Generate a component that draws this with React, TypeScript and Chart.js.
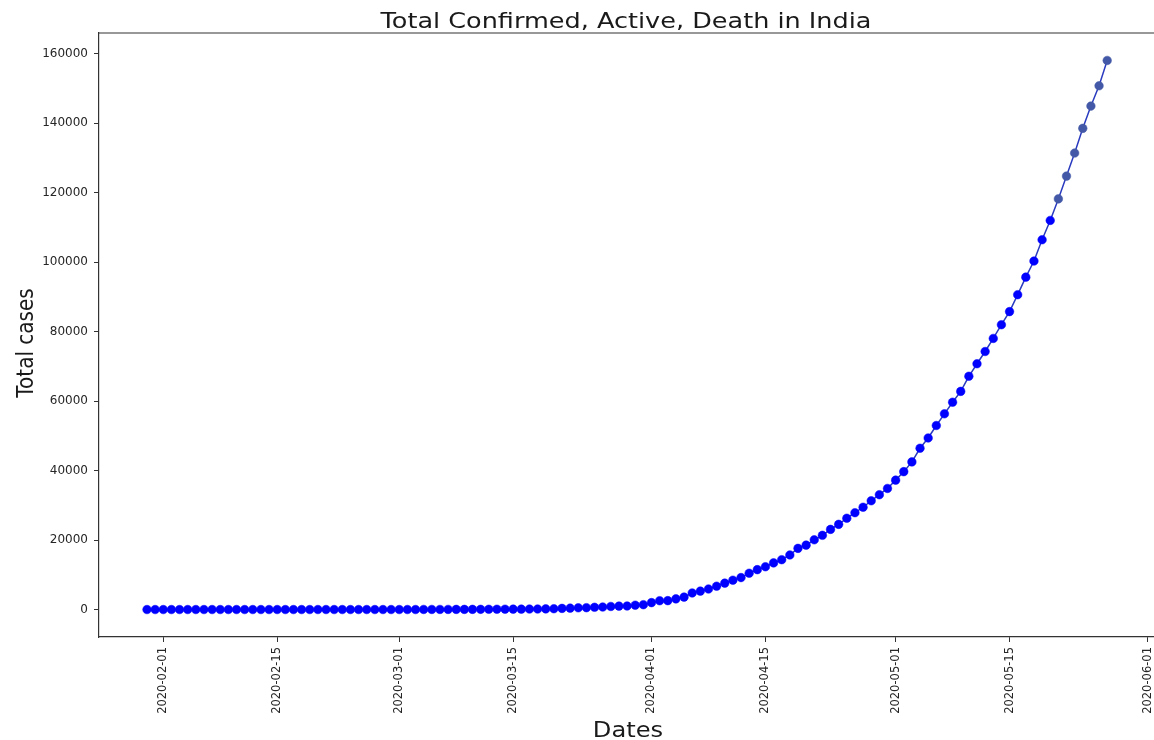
import React, { useEffect, useRef } from "react";
import { Chart, registerables } from "chart.js";

Chart.register(...registerables);

const chartTitle = "Total Confirmed, Active, Death in India";
const xAxisTitle = "Dates";
const yAxisTitle = "Total cases";

const startDate = "2020-01-30";
const endDate = "2020-05-27";

// cumulative confirmed cases, one value per day from startDate to endDate
const confirmed = [
  1, 1, 1, 2, 3, 3, 3, 3, 3, 3,
  3, 3, 3, 3, 3, 3, 3, 3, 3, 3,
  3, 3, 3, 3, 3, 3, 3, 3, 3, 3,
  3, 3, 5, 5, 28, 30, 31, 34, 39, 43, 56,
  62, 73, 82, 102, 113, 119, 142, 156, 194, 244,
  330, 396, 499, 536, 657, 727, 887, 987, 1024, 1251,
  1397, 1998, 2543, 2567, 3082, 3588, 4778, 5311, 5916, 6725,
  7598, 8446, 9205, 10453, 11487, 12322, 13430, 14352, 15722, 17615,
  18539, 20080, 21370, 23077, 24530, 26283, 27890, 29451, 31324, 33062,
  34863, 37257, 39699, 42505, 46437, 49400, 52987, 56351, 59695, 62808,
  67161, 70768, 74292, 78055, 81997, 85784, 90648, 95698, 100328, 106475,
  112028, 118226, 124794, 131423, 138536, 144950, 150793, 158086,
];

const xTickLabels = [
  "2020-02-01",
  "2020-02-15",
  "2020-03-01",
  "2020-03-15",
  "2020-04-01",
  "2020-04-15",
  "2020-05-01",
  "2020-05-15",
  "2020-06-01",
];

const yTickValues = [0, 20000, 40000, 60000, 80000, 100000, 120000, 140000, 160000];

function dayNum(s: string): number {
  const [y, m, d] = s.split("-").map(Number);
  return Date.UTC(y, m - 1, d) / 86400000;
}
function dayLabel(n: number): string {
  return new Date(Math.round(n) * 86400000).toISOString().slice(0, 10);
}

function zeroPadding(s: any) {
  s.paddingLeft = 0;
  s.paddingRight = 0;
  s.paddingTop = 0;
  s.paddingBottom = 0;
}

export default function App() {
  const ref = useRef<HTMLCanvasElement | null>(null);

  useEffect(() => {
    document.body.style.margin = "0";
    const canvas = ref.current;
    if (!canvas) return;

    const x0 = dayNum(startDate);
    const x1 = dayNum(endDate);
    const xSpan = x1 - x0;
    const yMaxData = Math.max(...confirmed);
    const yMinData = Math.min(...confirmed);
    const ySpan = yMaxData - yMinData;

    const pts = confirmed.map((v, i) => ({ x: x0 + i, y: v }));
    const pointColors = confirmed.map((_, i) => (i >= confirmed.length - 7 ? "#4358a6" : "#0000ff"));

    const decor = {
      id: "decor",
      afterDraw(chart: any) {
        const { ctx, chartArea: a } = chart;
        ctx.save();
        ctx.strokeStyle = "#333333";
        ctx.lineWidth = 1.2;
        ctx.beginPath();
        ctx.moveTo(a.left, a.top);
        ctx.lineTo(a.right, a.top);
        ctx.lineTo(a.right, a.bottom);
        ctx.stroke();

        ctx.fillStyle = "#1a1a1a";
        ctx.textAlign = "center";
        ctx.textBaseline = "alphabetic";

        ctx.save();
        ctx.translate(626, 28);
        ctx.scale(1.245, 1);
        ctx.font = "20.5px 'DejaVu Sans'";
        ctx.fillText(chartTitle, 0, 0);
        ctx.restore();

        ctx.save();
        ctx.translate(628, 737);
        ctx.scale(1.15, 1);
        ctx.font = "21px 'DejaVu Sans'";
        ctx.fillText(xAxisTitle, 0, 0);
        ctx.restore();

        ctx.save();
        ctx.translate(33, 343);
        ctx.rotate(-Math.PI / 2);
        ctx.scale(1, 1.15);
        ctx.font = "20px 'DejaVu Sans'";
        ctx.fillText(yAxisTitle, 0, 0);
        ctx.restore();

        ctx.restore();
      },
    };

    const chart = new Chart(canvas, {
      type: "line",
      data: {
        datasets: [
          {
            data: pts,
            borderColor: "#2a3bbf",
            borderWidth: 1.5,
            pointBackgroundColor: pointColors,
            pointBorderColor: pointColors,
            pointBorderWidth: 0.5,
            pointRadius: 4.3,
            tension: 0,
          },
        ],
      },
      options: {
        animation: false,
        responsive: false,
        devicePixelRatio: 1,
        layout: { padding: { top: 33, right: 1, left: 0, bottom: 0 } },
        plugins: { legend: { display: false }, title: { display: false }, tooltip: { enabled: false } },
        scales: {
          x: {
            type: "linear",
            bounds: "data",
            min: x0 - 0.05 * xSpan,
            max: x1 + 0.05 * xSpan,
            afterBuildTicks: (s: any) => {
              s.ticks = xTickLabels.map((l) => ({ value: dayNum(l) }));
            },
            afterFit: (s: any) => {
              s.height = 103;
              zeroPadding(s);
            },
            ticks: {
              callback: (v: any) => dayLabel(Number(v)),
              minRotation: 90,
              maxRotation: 90,
              autoSkip: false,
              padding: 5,
              color: "#262626",
              font: { family: "'DejaVu Sans'", size: 11.5 },
            },
            grid: { drawOnChartArea: false, drawTicks: true, tickLength: 5, color: "#333333" },
            border: { display: true, color: "#333333", width: 1.2 },
          },
          y: {
            type: "linear",
            bounds: "data",
            min: yMinData - 0.05 * ySpan,
            max: yMaxData + 0.05 * ySpan,
            afterBuildTicks: (s: any) => {
              s.ticks = yTickValues.map((v) => ({ value: v }));
            },
            afterFit: (s: any) => {
              s.width = 99;
              zeroPadding(s);
            },
            ticks: {
              callback: (v: any) => String(v),
              padding: 6,
              color: "#262626",
              font: { family: "'DejaVu Sans'", size: 12 },
            },
            grid: { drawOnChartArea: false, drawTicks: true, tickLength: 5, color: "#333333" },
            border: { display: true, color: "#333333", width: 1.2 },
          },
        },
      },
      plugins: [decor],
    });

    return () => chart.destroy();
  }, []);

  return (
    <div style={{ width: 1154, height: 740, overflow: "hidden", position: "relative" }}>
      <canvas ref={ref} width={1160} height={740} style={{ position: "absolute", left: 0, top: 0 }} />
    </div>
  );
}
